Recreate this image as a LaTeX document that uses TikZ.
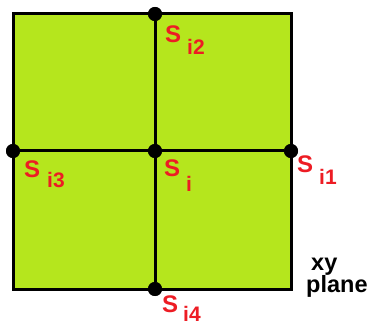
\documentclass[tikz,border=0pt]{standalone}
\usepackage{fontspec}
\setmainfont{Liberation Sans}
\definecolor{lime}{HTML}{B5E61D}
\definecolor{lbl}{HTML}{ED1C24}
\begin{document}
\begin{tikzpicture}[x=1pt,y=1pt,
  grid/.style={line width=3pt,draw=black},
  dotn/.style={circle,fill=black,inner sep=0pt,minimum size=14pt},
  lab/.style={anchor=base west,inner sep=0pt,text=lbl,font=\fontsize{24}{24}\selectfont\bfseries},
  sub/.style={anchor=base west,inner sep=0pt,text=lbl,font=\fontsize{21}{21}\selectfont\bfseries},
  plab/.style={anchor=base west,inner sep=0pt,text=black,font=\fontsize{23.5}{23}\selectfont\bfseries}]
\useasboundingbox (0,0) rectangle (372,324);
\coordinate (bl) at (13,35);
\coordinate (tr) at (291,310);
\fill[lime] (bl) rectangle (tr);
\node[dotn] (top) at (155,310) {};
\node[dotn] (left) at (13,173) {};
\node[dotn] (mid) at (155,173) {};
\node[dotn] (right) at (291,173) {};
\node[dotn] (bot) at (155,35) {};
\draw[grid] (bl) rectangle (tr);
\draw[grid] (top) -- (bot);
\draw[grid] (left) -- (right);
\foreach \n in {top,left,mid,right,bot} \fill (\n) circle (7pt);
% labels
\node[lab] (s2) at (165,281) {S};
\node[sub] (s2s) at (187,269) {i2};
\node[lab] (s3) at (24,146) {S};
\node[sub] (s3s) at (47,136) {i3};
\node[lab] (s0) at (164,147) {S};
\node[sub] (s0s) at (186,132) {i};
\node[lab] (s1) at (297,151) {S};
\node[sub] (s1s) at (319,139) {i1};
\node[lab] (s4) at (162,12) {S};
\node[sub] (s4s) at (183,3) {i4};
\node[plab] (xy) at (311,53) {xy};
\node[plab] (pl) at (306,31) {plane};
\end{tikzpicture}
\end{document}
